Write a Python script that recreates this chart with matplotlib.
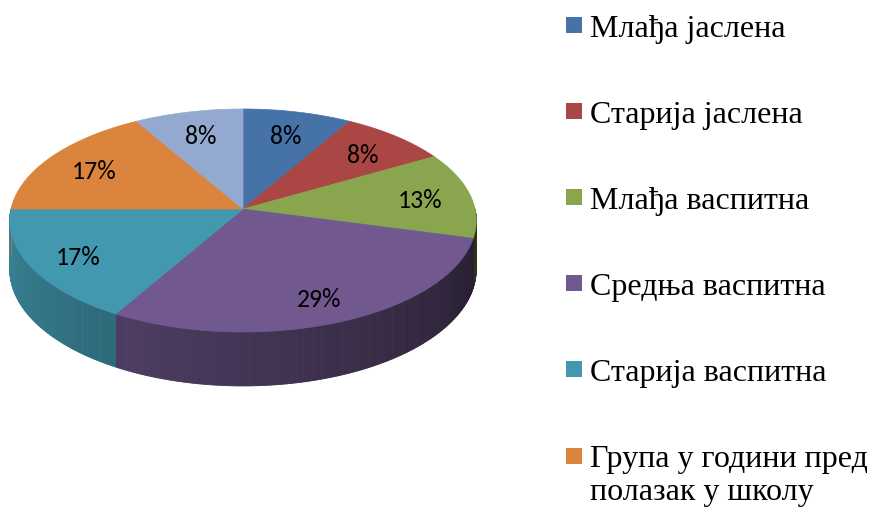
import numpy as np
import matplotlib.pyplot as plt
from matplotlib.patches import Polygon, Rectangle
from matplotlib.colors import to_rgb
from matplotlib import font_manager as fm

# the 7th legend entry is cut off in the original, so only six names are known
groups = ["Млађа јаслена", "Старија јаслена", "Млађа васпитна", "Средња васпитна",
          "Старија васпитна", "Група у години пред\nполазак у школу"]
counts = [2, 2, 3, 7, 4, 4, 2]
colors = ["#4572A7", "#AA4643", "#89A54E", "#71588F", "#4198AF", "#DB843D", "#93A9CF"]

installed = {f.name for f in fm.fontManager.ttflist}
LABEL_FONT = "Carlito" if "Carlito" in installed else "Lato"

# projection of the pie plane (perspective, tilted) into figure pixels
CX, CY = 243, 210
A, B, C = 232, 110.3, 0.103
DEPTH = 48.4
LABEL_FRAC = 0.78

# legend layout (pixels)
LEG_X, LEG_TOP, LEG_STEP, BOX = 566, 18, 86.1, 16


def proj(phi_deg):
    t = np.radians(phi_deg)
    u, v = np.cos(t), np.sin(t)
    w = 1 + C * v
    return CX + A * u / w, CY - B * v / w, DEPTH / w


def shade(phi):
    # light from the left, darker toward the right
    return 0.88 - 0.0032 * (phi - 180)


fig = plt.figure(figsize=(8.71, 5.10), dpi=100)
ax = fig.add_axes([0, 0, 1, 1])
ax.set_xlim(0, 871)
ax.set_ylim(510, 0)
ax.axis("off")

total = sum(counts)
fracs = np.array(counts) / total
cum = np.concatenate([[0], np.cumsum(fracs)])
starts = 90 - 360 * cum[:-1]
ends = 90 - 360 * cum[1:]

# side wall (front half only)
for s, e, col in zip(starts, ends, colors):
    lo, hi = e % 360, s % 360
    if hi <= lo:
        hi += 360
    a0, a1 = max(lo, 180), min(hi, 360)
    if a1 <= a0:
        continue
    phis = np.linspace(a0, a1, max(int((a1 - a0) * 2), 2))
    base = np.array(to_rgb(col))
    for p0, p1 in zip(phis[:-1], phis[1:]):
        x0, y0, d0 = proj(p0)
        x1, y1, d1 = proj(p1)
        fc = np.clip(base * shade(0.5 * (p0 + p1)), 0, 1)
        ax.add_patch(Polygon([(x0, y0), (x1, y1), (x1, y1 + d1), (x0, y0 + d0)],
                             closed=True, facecolor=fc, edgecolor=fc, lw=0.6, zorder=1))

# top face
for s, e, col in zip(starts, ends, colors):
    phis = np.linspace(s, e, 200)
    xs, ys, _ = proj(phis)
    pts = [(CX, CY)] + list(zip(xs, ys))
    ax.add_patch(Polygon(pts, closed=True, facecolor=col, edgecolor=col, lw=0.5, zorder=2))

# percentage labels
for s, e, f in zip(starts, ends, fracs):
    xr, yr, _ = proj(0.5 * (s + e))
    lx = CX + LABEL_FRAC * (xr - CX)
    ly = CY + LABEL_FRAC * (yr - CY) + 2
    ax.text(lx, ly, f"{int(f * 100 + 0.5)}%", ha="center", va="center",
            fontsize=18.5, family=LABEL_FONT, color="black", zorder=3)

# legend (right column, runs off the bottom like the original)
for i, (name, col) in enumerate(zip(groups, colors)):
    top = LEG_TOP + i * LEG_STEP
    ax.add_patch(Rectangle((LEG_X, top), BOX, BOX, facecolor=col, edgecolor="none",
                           clip_on=False))
    ax.text(LEG_X + 24, top - 3.5, name, ha="left", va="top", fontsize=23,
            family="Liberation Serif", color="black", linespacing=1.2)

fig.savefig("out.png", dpi=100)
